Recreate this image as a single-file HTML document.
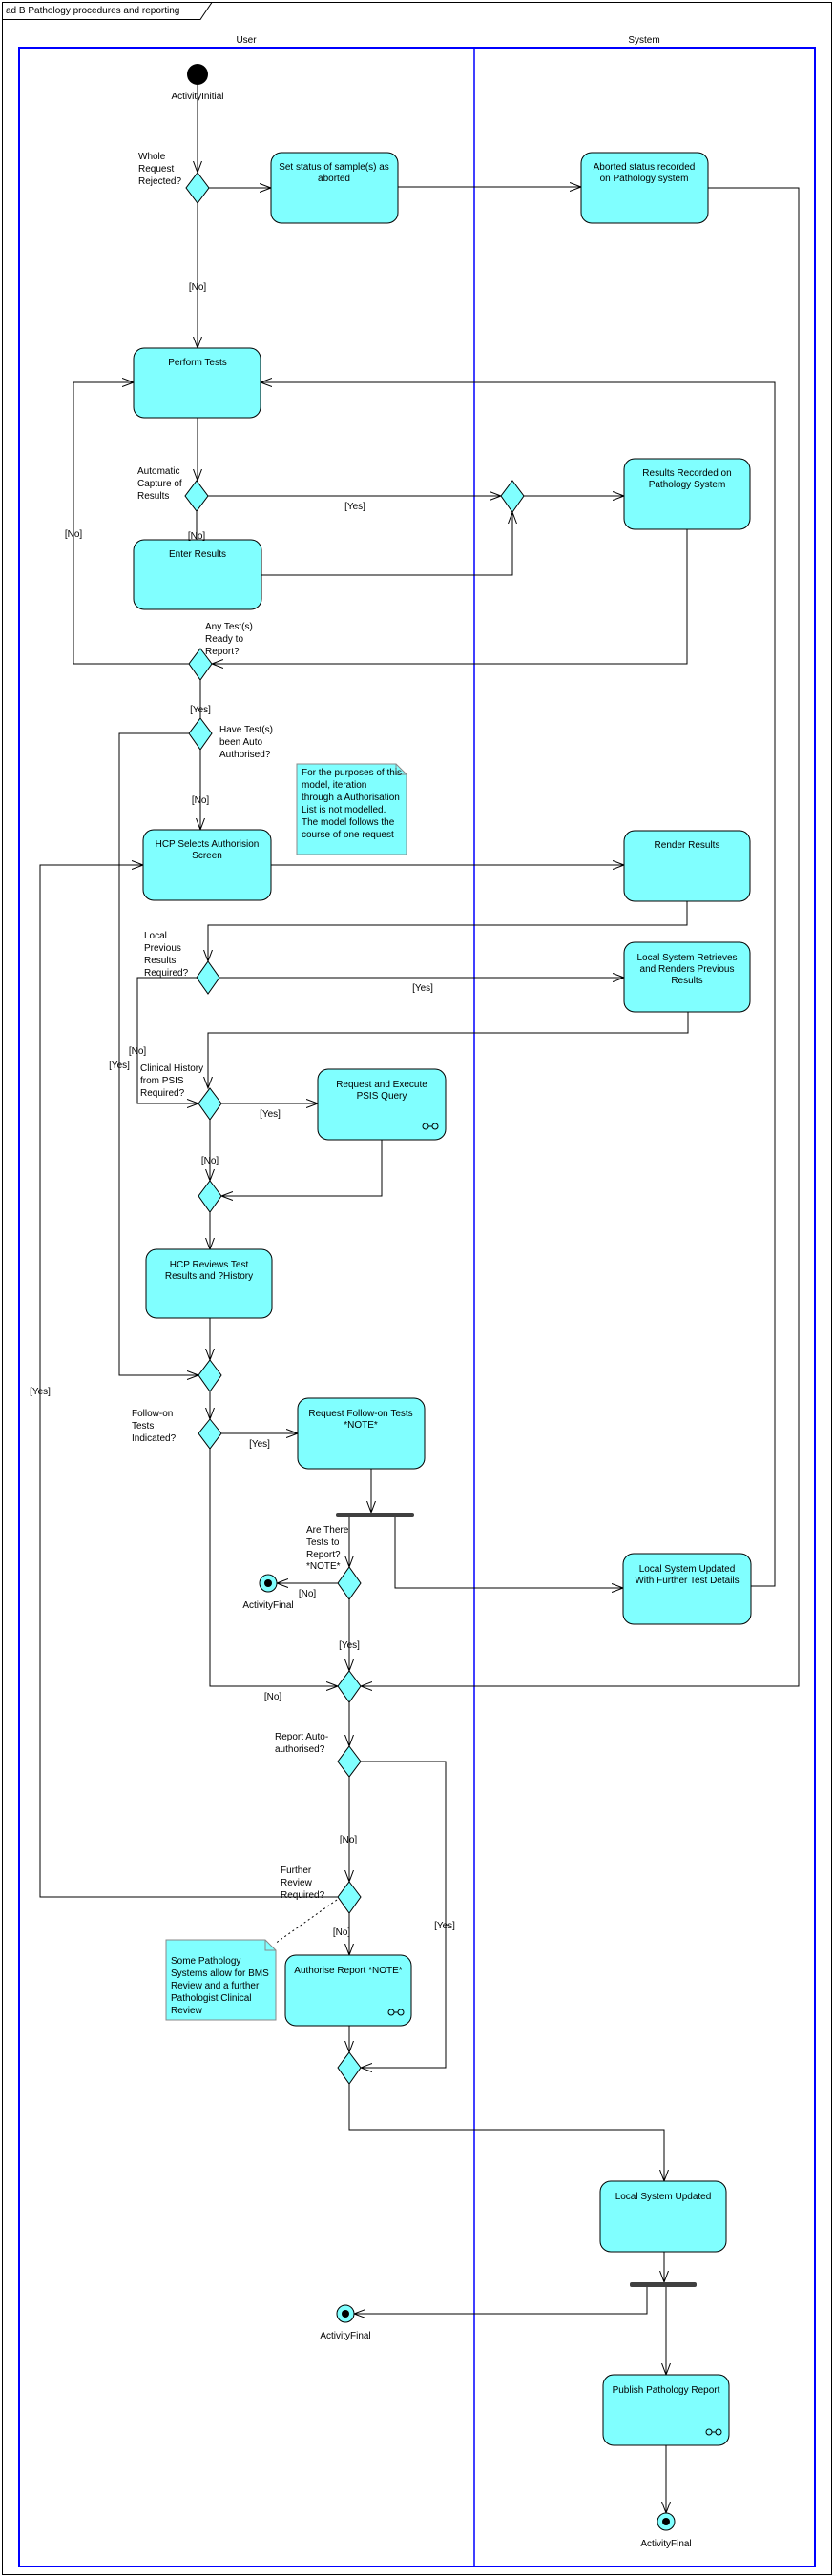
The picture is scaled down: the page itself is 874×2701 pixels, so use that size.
<!DOCTYPE html>
<html><head><meta charset="utf-8"><style>
html,body{margin:0;padding:0;background:#fff}
svg{display:block}
text{font-family:"Liberation Sans",sans-serif;font-size:10px;fill:#000}
</style></head><body>
<svg width="874" height="2701" viewBox="0 0 874 2701" xmlns="http://www.w3.org/2000/svg">
<defs>
<marker id="a" markerUnits="userSpaceOnUse" markerWidth="16" markerHeight="12" refX="12" refY="5" orient="auto">
<path d="M0,0.5 L12,5 L0,9.5" fill="none" stroke="#000" stroke-width="1"/>
</marker>
</defs>
<rect x="2.5" y="2.5" width="869" height="2697" fill="none" stroke="#000"/>
<path d="M2.5,20.5 H210 L222,2.5" fill="none" stroke="#000"/>
<text x="6" y="14">ad B Pathology procedures and reporting</text>
<rect x="20" y="50" width="834" height="2641" fill="none" stroke="#0000ff" stroke-width="2"/>
<line x1="497" y1="50" x2="497" y2="2691" stroke="#0000ff" stroke-width="1.5"/>
<text x="258" y="45" text-anchor="middle">User</text>
<text x="675" y="45" text-anchor="middle">System</text>

<g fill="none" stroke="#000" stroke-width="1">
<polyline points="207,89 207,181" marker-end="url(#a)"/>
<polyline points="219,197 284,197" marker-end="url(#a)"/>
<polyline points="417,196 609,196" marker-end="url(#a)"/>
<polyline points="742,197 837,197 837,1768 378,1768" marker-end="url(#a)"/>
<polyline points="207,213 207,365" marker-end="url(#a)"/>
<polyline points="207,438 207,504" marker-end="url(#a)"/>
<polyline points="218,520 525,520" marker-end="url(#a)"/>
<polyline points="549,520 654,520" marker-end="url(#a)"/>
<polyline points="206,536 206,566"/>
<polyline points="274,603 537,603 537,537" marker-end="url(#a)"/>
<polyline points="720,555 720,696 222,696" marker-end="url(#a)"/>
<polyline points="198,696 77,696 77,401 140,401" marker-end="url(#a)"/>
<polyline points="210,713 210,753"/>
<polyline points="210,786 210,870" marker-end="url(#a)"/>
<polyline points="198,769 125,769 125,1442 208,1442" marker-end="url(#a)"/>
<polyline points="284,907 654,907" marker-end="url(#a)"/>
<polyline points="354,1989 42,1989 42,907 150,907" marker-end="url(#a)"/>
<polyline points="720,945 720,970 218,970 218,1008" marker-end="url(#a)"/>
<polyline points="230,1025 654,1025" marker-end="url(#a)"/>
<polyline points="206,1025 144,1025 144,1157 208,1157" marker-end="url(#a)"/>
<polyline points="721,1061 721,1083 218,1083 218,1141" marker-end="url(#a)"/>
<polyline points="232,1157 333,1157" marker-end="url(#a)"/>
<polyline points="220,1174 220,1238" marker-end="url(#a)"/>
<polyline points="400,1195 400,1254 232,1254" marker-end="url(#a)"/>
<polyline points="220,1271 220,1310" marker-end="url(#a)"/>
<polyline points="220,1382 220,1426" marker-end="url(#a)"/>
<polyline points="220,1459 220,1488" marker-end="url(#a)"/>
<polyline points="232,1503 312,1503" marker-end="url(#a)"/>
<polyline points="220,1519 220,1768 354,1768" marker-end="url(#a)"/>
<polyline points="389,1540 389,1586" marker-end="url(#a)"/>
<polyline points="366,1591 366,1643" marker-end="url(#a)"/>
<polyline points="354,1660 290,1660" marker-end="url(#a)"/>
<polyline points="414,1591 414,1665 653,1665" marker-end="url(#a)"/>
<polyline points="787,1663 812,1663 812,401 273,401" marker-end="url(#a)"/>
<polyline points="366,1677 366,1752" marker-end="url(#a)"/>
<polyline points="366,1785 366,1831" marker-end="url(#a)"/>
<polyline points="378,1847 467,1847 467,2168 378,2168" marker-end="url(#a)"/>
<polyline points="366,1863 366,1973" marker-end="url(#a)"/>
<polyline points="366,2006 366,2050" marker-end="url(#a)"/>
<polyline points="366,2124 366,2152" marker-end="url(#a)"/>
<polyline points="366,2185 366,2233 696,2233 696,2287" marker-end="url(#a)"/>
<polyline points="696,2361 696,2393" marker-end="url(#a)"/>
<polyline points="678,2398 678,2426 371,2426" marker-end="url(#a)"/>
<polyline points="698,2398 698,2490" marker-end="url(#a)"/>
<polyline points="698,2564 698,2635" marker-end="url(#a)"/>
<line x1="353" y1="1992" x2="288" y2="2038" stroke-dasharray="2,3"/>
</g>

<circle cx="207" cy="78" r="11" fill="#000"/>
<g fill="#80ffff" stroke="#000" stroke-width="1">
<rect x="284" y="160" width="133" height="74" rx="11"/>
<rect x="609" y="160" width="133" height="74" rx="11"/>
<rect x="140" y="365" width="133" height="73" rx="11"/>
<rect x="654" y="481" width="132" height="74" rx="11"/>
<rect x="140" y="566" width="134" height="73" rx="11"/>
<rect x="150" y="870" width="134" height="74" rx="11"/>
<rect x="654" y="871" width="132" height="74" rx="11"/>
<rect x="654" y="988" width="132" height="73" rx="11"/>
<rect x="333" y="1121" width="134" height="74" rx="11"/>
<rect x="153" y="1310" width="132" height="72" rx="11"/>
<rect x="312" y="1466" width="133" height="74" rx="11"/>
<rect x="653" y="1629" width="134" height="74" rx="11"/>
<rect x="299" y="2050" width="132" height="74" rx="11"/>
<rect x="629" y="2287" width="132" height="74" rx="11"/>
<rect x="632" y="2490" width="132" height="74" rx="11"/>
</g>
<g fill="#80ffff" stroke="#000" stroke-width="1">
<polygon points="207,181 219,197 207,213 195,197"/>
<polygon points="206,504 218,520 206,536 194,520"/>
<polygon points="537,504 549,520 537,537 525,520"/>
<polygon points="210,680 222,696 210,713 198,696"/>
<polygon points="210,753 222,769 210,786 198,769"/>
<polygon points="218,1008 230,1025 218,1042 206,1025"/>
<polygon points="220,1141 232,1157 220,1174 208,1157"/>
<polygon points="220,1238 232,1254 220,1271 208,1254"/>
<polygon points="220,1426 232,1442 220,1459 208,1442"/>
<polygon points="220,1488 232,1503 220,1519 208,1503"/>
<polygon points="366,1643 378,1660 366,1677 354,1660"/>
<polygon points="366,1752 378,1768 366,1785 354,1768"/>
<polygon points="366,1831 378,1847 366,1863 354,1847"/>
<polygon points="366,1973 378,1989 366,2006 354,1989"/>
<polygon points="366,2152 378,2168 366,2185 354,2168"/>
</g>
<rect x="352" y="1586" width="82" height="5" rx="2" fill="#404040"/>
<rect x="660" y="2393" width="70" height="5" rx="2" fill="#404040"/>
<g fill="#80ffff" stroke="#000">
<ellipse cx="281" cy="1660" rx="9" ry="9"/>
<ellipse cx="362" cy="2426" rx="9" ry="9"/>
<ellipse cx="698" cy="2644" rx="9" ry="9"/>
</g>
<circle cx="281" cy="1660" r="4" fill="#000"/>
<circle cx="362" cy="2426" r="4" fill="#000"/>
<circle cx="698" cy="2644" r="4" fill="#000"/>
<g fill="#80ffff" stroke="#888">
<path d="M311,801 H415 L426,812 V896 H311 Z"/>
<path d="M174,2034 H278 L289,2045 V2118 H174 Z"/>
</g>
<g fill="none" stroke="#888"><path d="M415,801 V812 H426"/><path d="M278,2034 V2045 H289"/></g>
<g fill="none" stroke="#000">
<circle cx="446" cy="1181" r="3"/><circle cx="456" cy="1181" r="3"/><line x1="449" y1="1181" x2="453" y2="1181"/>
<circle cx="410" cy="2110" r="3"/><circle cx="420" cy="2110" r="3"/><line x1="413" y1="2110" x2="417" y2="2110"/>
<circle cx="743" cy="2550" r="3"/><circle cx="753" cy="2550" r="3"/><line x1="746" y1="2550" x2="750" y2="2550"/>
</g>

<g text-anchor="middle">
<text x="207" y="104">ActivityInitial</text>
<text x="350" y="178">Set status of sample(s) as</text>
<text x="350" y="190">aborted</text>
<text x="675" y="178">Aborted status recorded</text>
<text x="675" y="190">on Pathology system</text>
<text x="207" y="304">[No]</text>
<text x="207" y="383">Perform Tests</text>
<text x="720" y="499">Results Recorded on</text>
<text x="720" y="511">Pathology System</text>
<text x="372" y="534">[Yes]</text>
<text x="77" y="563">[No]</text>
<text x="206" y="565">[No]</text>
<text x="207" y="584">Enter Results</text>
<text x="210" y="747">[Yes]</text>
<text x="210" y="842">[No]</text>
<text x="217" y="888">HCP Selects Authorision</text>
<text x="217" y="900">Screen</text>
<text x="720" y="889">Render Results</text>
<text x="443" y="1039">[Yes]</text>
<text x="720" y="1007">Local System Retrieves</text>
<text x="720" y="1019">and Renders Previous</text>
<text x="720" y="1031">Results</text>
<text x="144" y="1105">[No]</text>
<text x="125" y="1120">[Yes]</text>
<text x="400" y="1140">Request and Execute</text>
<text x="400" y="1152">PSIS Query</text>
<text x="283" y="1171">[Yes]</text>
<text x="220" y="1220">[No]</text>
<text x="219" y="1329">HCP Reviews Test</text>
<text x="219" y="1341">Results and ?History</text>
<text x="42" y="1462">[Yes]</text>
<text x="378" y="1485">Request Follow-on Tests</text>
<text x="378" y="1497">*NOTE*</text>
<text x="272" y="1517">[Yes]</text>
<text x="720" y="1648">Local System Updated</text>
<text x="720" y="1660">With Further Test Details</text>
<text x="322" y="1674">[No]</text>
<text x="281" y="1686">ActivityFinal</text>
<text x="366" y="1728">[Yes]</text>
<text x="286" y="1782">[No]</text>
<text x="365" y="1932">[No]</text>
<text x="466" y="2022">[Yes]</text>
<text x="358" y="2029">[No]</text>
<text x="365" y="2069">Authorise Report *NOTE*</text>
<text x="695" y="2306">Local  System Updated</text>
<text x="362" y="2452">ActivityFinal</text>
<text x="698" y="2509">Publish Pathology Report</text>
<text x="698" y="2670">ActivityFinal</text>
</g>
<g>
<text x="145" y="167">Whole</text>
<text x="145" y="180">Request</text>
<text x="145" y="193">Rejected?</text>
<text x="144" y="497">Automatic</text>
<text x="144" y="510">Capture of</text>
<text x="144" y="523">Results</text>
<text x="215" y="660">Any Test(s)</text>
<text x="215" y="673">Ready to</text>
<text x="215" y="686">Report?</text>
<text x="230" y="768">Have Test(s)</text>
<text x="230" y="781">been Auto</text>
<text x="230" y="794">Authorised?</text>
<text x="316" y="813">For the purposes of this</text>
<text x="316" y="826">model, iteration</text>
<text x="316" y="839">through a Authorisation</text>
<text x="316" y="852">List is not modelled.</text>
<text x="316" y="865">The model follows the</text>
<text x="316" y="878">course of one request</text>
<text x="151" y="984">Local</text>
<text x="151" y="997">Previous</text>
<text x="151" y="1010">Results</text>
<text x="151" y="1023">Required?</text>
<text x="147" y="1123">Clinical History</text>
<text x="147" y="1136">from PSIS</text>
<text x="147" y="1149">Required?</text>
<text x="138" y="1485">Follow-on</text>
<text x="138" y="1498">Tests</text>
<text x="138" y="1511">Indicated?</text>
<text x="321" y="1607">Are There</text>
<text x="321" y="1620">Tests to</text>
<text x="321" y="1633">Report?</text>
<text x="321" y="1645">*NOTE*</text>
<text x="288" y="1824">Report Auto-</text>
<text x="288" y="1837">authorised?</text>
<text x="294" y="1964">Further</text>
<text x="294" y="1977">Review</text>
<text x="294" y="1990">Required?</text>
<text x="179" y="2059">Some Pathology</text>
<text x="179" y="2072">Systems allow for BMS</text>
<text x="179" y="2085">Review and a further</text>
<text x="179" y="2098">Pathologist Clinical</text>
<text x="179" y="2111">Review</text>
</g>
</svg>
</body></html>
